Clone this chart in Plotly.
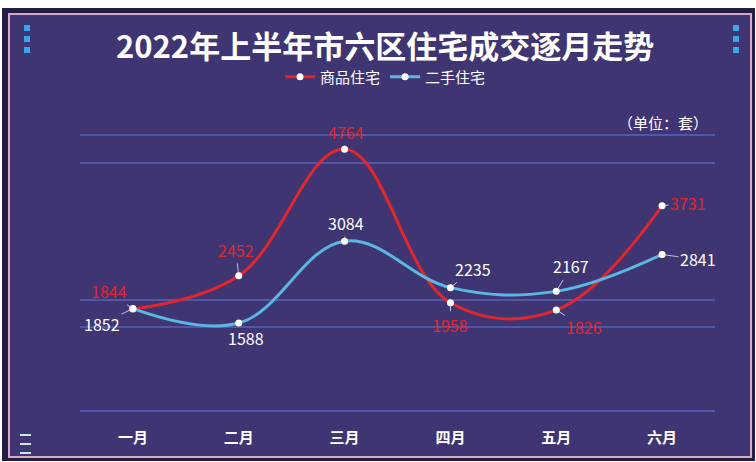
import plotly.graph_objects as go

months = ["一月", "二月", "三月", "四月", "五月", "六月"]
new_homes = [1844, 2452, 4764, 1958, 1826, 3731]
resale_homes = [1852, 1588, 3084, 2235, 2167, 2841]
series_names = ["商品住宅", "二手住宅"]

W, H = 756, 462
BG = "#3f3572"
RED = "#e3262c"
BLUE = "#5ab8e2"
FONT = "Noto Sans CJK SC"

def px(x):
    return x / W

def py(y):
    return 1 - y / H

fig = go.Figure()
fig.add_trace(go.Scatter(
    x=months, y=new_homes, name=series_names[0], mode="lines+markers",
    line=dict(color=RED, width=3, shape="spline", smoothing=1.1),
    marker=dict(color="white", size=7, line=dict(width=0)),
))
fig.add_trace(go.Scatter(
    x=months, y=resale_homes, name=series_names[1], mode="lines+markers",
    line=dict(color=BLUE, width=3, shape="spline", smoothing=1.1),
    marker=dict(color="white", size=7, line=dict(width=0)),
))

# label offsets (pixels) for each point label
red_off = [(-24, -18), (-3, -26), (1, -17), (0, 22), (28, 17), (26, -3)]
blue_off = [(-31, 15), (7, 15), (1, -18), (23, -19), (15, -25), (36, 5)]

annotations = []
for m, v, (ax, ay) in zip(months, new_homes, red_off):
    annotations.append(dict(x=m, y=v, xref="x", yref="y", text=str(v),
                            showarrow=True, arrowhead=0, arrowwidth=1,
                            arrowcolor="rgba(255,255,255,0.7)", ax=ax, ay=ay,
                            standoff=3, font=dict(color=RED, size=16, family=FONT)))
for m, v, (ax, ay) in zip(months, resale_homes, blue_off):
    annotations.append(dict(x=m, y=v, xref="x", yref="y", text=str(v),
                            showarrow=True, arrowhead=0, arrowwidth=1,
                            arrowcolor="rgba(255,255,255,0.7)", ax=ax, ay=ay,
                            standoff=3, font=dict(color="white", size=16, family=FONT)))

annotations.append(dict(x=px(385), y=py(44), xref="paper", yref="paper",
                        xanchor="center", yanchor="middle",
                        text="<b>2022年上半年市六区住宅成交逐月走势</b>", showarrow=False,
                        font=dict(color="white", size=31, family=FONT)))
annotations.append(dict(x=px(663), y=py(122), xref="paper", yref="paper",
                        xanchor="center", yanchor="middle",
                        text="（单位：套）", showarrow=False,
                        font=dict(color="white", size=15, family=FONT)))

shapes = [
    dict(type="rect", xref="paper", yref="paper", x0=px(2), x1=px(755), y0=py(461), y1=py(8),
         fillcolor="#221d45", line=dict(width=0), layer="below"),
    dict(type="rect", xref="paper", yref="paper", x0=px(9), x1=px(751), y0=py(457), y1=py(14),
         fillcolor=BG, line=dict(color="#d9a9c2", width=2), layer="below"),
]
for yy in (25, 36, 47):
    for xx in (24, 733):
        shapes.append(dict(type="rect", xref="paper", yref="paper", x0=px(xx), x1=px(xx + 6),
                           y0=py(yy + 6), y1=py(yy), fillcolor="#3aa6e6",
                           line=dict(width=0), layer="below"))
for yy in (434, 443, 452):
    shapes.append(dict(type="rect", xref="paper", yref="paper", x0=px(20), x1=px(31),
                       y0=py(yy + 2), y1=py(yy), fillcolor="#cfe6e4",
                       line=dict(width=0), layer="below"))

fig.update_layout(
    width=W, height=H,
    margin=dict(l=0, r=0, t=0, b=0),
    paper_bgcolor="white", plot_bgcolor="rgba(0,0,0,0)",
    font=dict(family=FONT, color="white"),
    showlegend=True,
    legend=dict(orientation="h", x=0.51, y=py(77), xanchor="center", yanchor="middle",
                font=dict(size=15, color="white", family=FONT), bgcolor="rgba(0,0,0,0)",
                itemwidth=30, tracegroupgap=0),
    xaxis=dict(domain=[px(80), px(715)], range=[-0.5, 5.5], showgrid=False, zeroline=False,
               showline=True, linecolor="#4f55a8", linewidth=2, ticks="",
               tickfont=dict(size=15, color="white", family=FONT),
               ticklabelstandoff=13),
    yaxis=dict(domain=[py(410), py(133)], range=[0, 5060], showticklabels=False,
               tickvals=[1516, 2010, 4512, 5024], showgrid=True, gridcolor="#5157a6",
               gridwidth=1.5, zeroline=False, showline=False),
    annotations=annotations, shapes=shapes,
)
fig.update_xaxes(tickvals=months, ticktext=[f"<b>{m}</b>" for m in months])

fig.write_html("out.html")
